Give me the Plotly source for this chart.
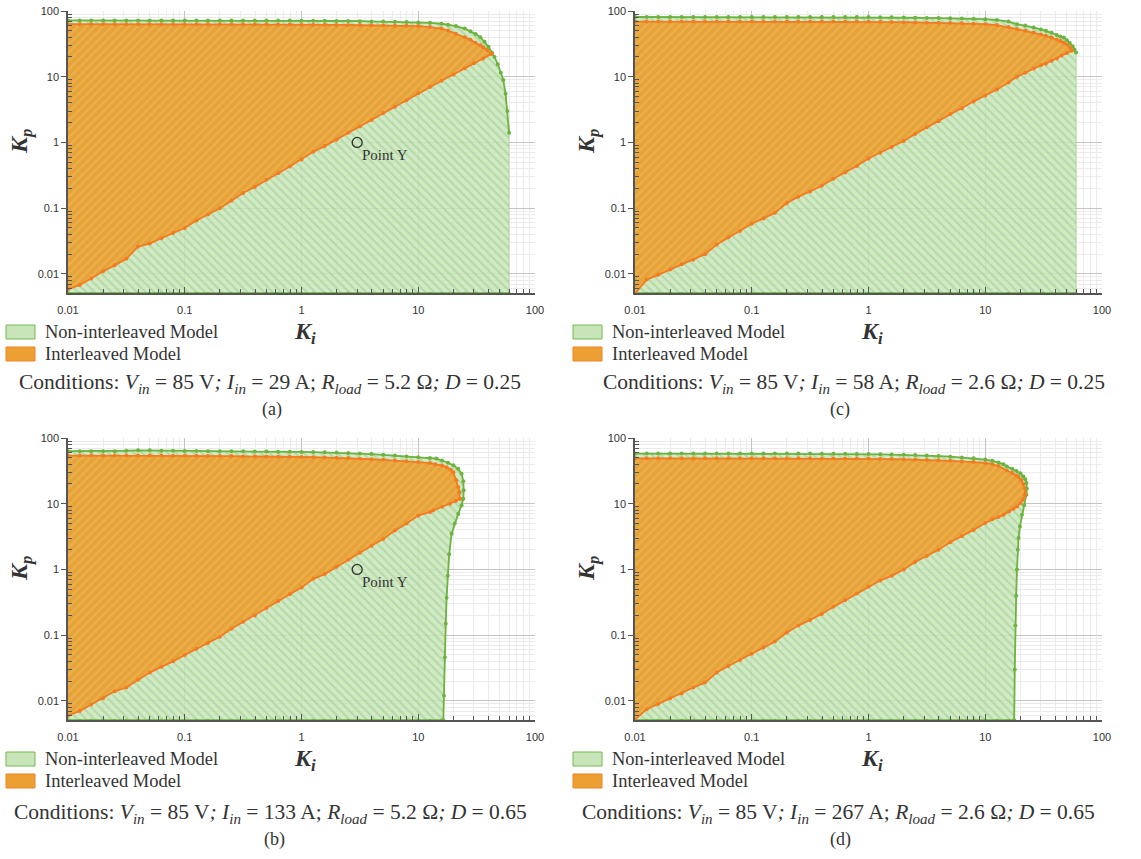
import math
import plotly.graph_objects as go

W, H = 1141, 859

# ---------------- data ----------------
KI_GRID = [0.01, 0.0126, 0.0158, 0.02, 0.0251, 0.0316, 0.0398, 0.0501, 0.0631, 0.0794,
           0.1, 0.126, 0.158, 0.2, 0.251, 0.316, 0.398, 0.501, 0.631, 0.794,
           1, 1.26, 1.58, 2, 2.51, 3.16, 3.98, 5.01, 6.31, 7.94, 10]
KP_FLOOR = 0.0051
FLOOR_KI_TAIL = [12.6, 15.8, 20, 25, 31.6, 40, 50, 60]

# (a)
A_GT_KP = [72, 72, 72, 72, 72, 72, 72, 72, 72, 72, 72, 72, 72, 72, 72, 72,
           71.5, 71.5, 71.5, 71.5, 71, 71, 71, 70.5, 70.5, 70, 69.5, 69, 68.5, 68, 67]
A_GT_TAIL_KI = [12.6, 15.8, 18, 21, 25, 28, 31, 34, 37, 40, 43, 45, 48, 51, 53.5, 56, 58, 60]
A_GT_TAIL_KP = [66, 64, 62, 59, 54, 49, 44.5, 40, 34, 28.5, 23, 20, 15.5, 11.5, 8.9, 5.5, 3, 1.4]
A_OT_KP = [63, 63, 63, 63, 63, 63, 63, 63, 63, 63, 63, 63, 63, 63, 63, 63,
           62.8, 62.6, 62.5, 62.3, 62, 61.8, 61.6, 61.4, 61.2, 61, 60.6, 60.2, 59.8, 59.4, 59]
A_OT_TAIL_KI = [12.6, 15.8, 18, 21, 25, 28, 31, 34, 36, 39, 42.5]
A_OT_TAIL_KP = [57, 54, 50.5, 45, 40, 36.5, 33, 30, 28, 25.5, 22.3]
A_OB_KP = [0.0058, 0.0068, 0.0085, 0.011, 0.0135, 0.017, 0.026, 0.029, 0.035, 0.042,
           0.05, 0.065, 0.08, 0.1, 0.13, 0.17, 0.21, 0.27, 0.34, 0.43,
           0.55, 0.72, 0.88, 1.1, 1.4, 1.75, 2.2, 2.8, 3.5, 4.4, 5.6]
A_OB_TAIL_KI = [12.6, 15.8, 20, 25, 30, 36, 42.5]
A_OB_TAIL_KP = [7, 8.7, 10.8, 13.5, 16, 19, 22.3]

# (b)
B_GT_KP = [63, 63, 63, 63, 63, 64, 65, 65, 64, 64, 63.5, 63.5, 63, 63, 63, 63,
           62.5, 62.5, 62, 62, 61.5, 61, 60.5, 60, 59, 58, 57, 55.5, 54, 52.5, 51]
B_GT_TAIL_KI = [12.6, 14.3, 16, 18, 20, 22, 23.5, 24.3, 24.5, 24.3, 23.5, 22, 20.5,
                19.3, 18.4, 17.9, 17.5, 17.2, 16.9, 16.6, 16.4]
B_GT_TAIL_KP = [49.5, 48.6, 45.5, 42, 38.5, 34, 28.7, 22, 16, 11.9, 9.5, 7, 5,
                3.5, 1.7, 0.8, 0.37, 0.15, 0.046, 0.012, 0.0051]
B_OT_KP = [54, 54, 54, 54, 54, 54, 54, 54, 54, 53.5, 53.5, 53.5, 53, 53, 53, 52.5,
           52.5, 52, 52, 51.8, 51.4, 51, 50.5, 50, 49.5, 48.5, 47.5, 46.5, 45.5, 44.3, 43]
B_OT_TAIL_KI = [12.6, 14, 16, 17.5, 19, 20, 21.2, 22, 22.5, 22.7]
B_OT_TAIL_KP = [41.5, 40, 38, 36, 33, 30, 22.7, 18, 15, 11.9]
B_OB_KP = [0.006, 0.007, 0.0088, 0.011, 0.014, 0.016, 0.021, 0.027, 0.033, 0.04,
           0.05, 0.062, 0.076, 0.095, 0.125, 0.16, 0.2, 0.26, 0.33, 0.42,
           0.53, 0.72, 0.85, 1.1, 1.4, 1.8, 2.3, 2.9, 3.9, 5.0, 6.6]
B_OB_TAIL_KI = [12.6, 13.4, 16, 18.7, 21, 22.7]
B_OB_TAIL_KP = [7.5, 7.9, 9, 10, 11, 11.9]

# (c)
C_GT_KP = [81, 81, 81, 81, 81, 81, 81, 81, 81, 81, 81, 81, 81, 81, 81, 81,
           81, 81, 81, 81, 81, 80.5, 80, 79.5, 79, 78.5, 78, 77.5, 77, 76, 75]
C_GT_TAIL_KI = [12.6, 15.8, 18.7, 22, 26, 30, 33, 37, 41, 44, 47, 50, 53, 56, 58, 60]
C_GT_TAIL_KP = [73, 69, 63, 60, 56, 52.5, 50, 46.5, 43, 41, 39.5, 36, 32.5, 29, 26, 23.4]
C_OT_KP = [69, 69, 69, 69, 69, 69, 69, 69, 69, 69, 69, 69, 69, 69, 69, 69,
           69, 69, 69, 69, 69, 68.5, 68, 67.5, 67, 66.5, 66, 65.5, 65, 64, 63]
C_OT_TAIL_KI = [12.6, 15.8, 18.7, 22, 26, 30, 33, 37, 41, 44, 47, 50, 53, 55]
C_OT_TAIL_KP = [61, 57, 53, 50, 47, 44, 42, 39.5, 37, 35, 33, 31, 28, 25]
C_OB_KP = [0.005, 0.0082, 0.0097, 0.0117, 0.014, 0.0165, 0.02, 0.028, 0.036, 0.045,
           0.058, 0.07, 0.085, 0.12, 0.15, 0.18, 0.22, 0.28, 0.35, 0.44,
           0.57, 0.7, 0.85, 1.05, 1.35, 1.7, 2.1, 2.7, 3.3, 4.2, 5.2]
C_OB_TAIL_KI = [12.6, 15.8, 18.7, 22, 26, 30, 33, 37, 41, 45, 50, 55]
C_OB_TAIL_KP = [6.4, 8.2, 10, 11.5, 13.3, 15, 15.8, 17.5, 19, 21, 23, 25]

# (d)
D_GT_KP = [58, 58, 58, 58, 58, 58, 58, 58, 58, 58, 58, 58, 58, 58, 58, 58,
           57.8, 57.6, 57.4, 57.2, 57, 56.5, 56, 55.5, 55, 54, 53, 52, 50.5, 49, 47]
D_GT_TAIL_KI = [11.5, 13, 14.3, 15.3, 17, 18.5, 20, 21.2, 22, 22.5, 22.7, 22.5, 21.5,
                20.6, 19.8, 19.3, 19, 18.7, 18.4, 18.1, 17.9, 17.7]
D_GT_TAIL_KP = [45, 42.5, 40, 37, 34, 31.5, 29, 26, 23.5, 20.6, 17, 13.7, 9.5,
                6.8, 4.5, 3, 2, 1, 0.4, 0.14, 0.03, 0.0051]
D_OT_KP = [49, 49, 49, 49, 49, 49, 49, 49, 49, 49, 49, 49, 49, 49, 49, 49,
           48.9, 48.8, 48.7, 48.6, 48.6, 48.2, 47.8, 47.4, 47, 46.4, 45.8, 45, 44, 43, 41.7]
D_OT_TAIL_KI = [11.5, 13, 15.3, 17, 18.5, 19.3, 20.3, 21.2, 21.8, 22]
D_OT_TAIL_KP = [40, 37.5, 32, 29.5, 27, 25.5, 23, 20, 17, 13.7]
D_OB_KP = [0.0052, 0.0075, 0.009, 0.011, 0.013, 0.016, 0.019, 0.027, 0.034, 0.042,
           0.052, 0.065, 0.08, 0.11, 0.14, 0.17, 0.21, 0.27, 0.34, 0.43,
           0.55, 0.68, 0.8, 1.0, 1.3, 1.6, 2.0, 2.6, 3.2, 4.0, 5.1]
D_OB_TAIL_KI = [11.5, 13, 14.4, 16, 17.5, 18.7, 20, 21, 22]
D_OB_TAIL_KP = [5.8, 6.3, 6.8, 7.6, 8.4, 9.1, 10.2, 11.5, 13.7]

POINT_Y = (3, 1)
POINT_LABEL = "Point Y"

X_TICKS = [0.01, 0.1, 1, 10, 100]
X_TICKTEXT = ["0.01", "0.1", "1", "10", "100"]
Y_TICKS = [0.01, 0.1, 1, 10, 100]
Y_TICKTEXT = ["0.01", "0.1", "1", "10", "100"]
MINOR_TICKS = [m * 10 ** e for e in range(-3, 3) for m in range(2, 10)]

SERIES_NAMES = ["Non-interleaved Model", "Interleaved Model"]
CONDITIONS = [
    "Conditions: <i>V<sub>in</sub></i> = 85 V<i>;</i> <i>I<sub>in</sub></i> = 29 A; <i>R<sub>load</sub></i> = 5.2 Ω<i>;</i> <i>D</i> = 0.25",
    "Conditions: <i>V<sub>in</sub></i> = 85 V<i>;</i> <i>I<sub>in</sub></i> = 133 A; <i>R<sub>load</sub></i> = 5.2 Ω<i>;</i> <i>D</i> = 0.65",
    "Conditions: <i>V<sub>in</sub></i> = 85 V<i>;</i> <i>I<sub>in</sub></i> = 58 A; <i>R<sub>load</sub></i> = 2.6 Ω<i>;</i> <i>D</i> = 0.25",
    "Conditions: <i>V<sub>in</sub></i> = 85 V<i>;</i> <i>I<sub>in</sub></i> = 267 A; <i>R<sub>load</sub></i> = 2.6 Ω<i>;</i> <i>D</i> = 0.65",
]
PANEL_LABELS = ["(a)", "(b)", "(c)", "(d)"]

PANELS = [
    dict(gt=(KI_GRID + A_GT_TAIL_KI, A_GT_KP + A_GT_TAIL_KP),
         ot=(KI_GRID + A_OT_TAIL_KI, A_OT_KP + A_OT_TAIL_KP),
         ob=(KI_GRID + A_OB_TAIL_KI, A_OB_KP + A_OB_TAIL_KP), point=True),
    dict(gt=(KI_GRID + B_GT_TAIL_KI, B_GT_KP + B_GT_TAIL_KP),
         ot=(KI_GRID + B_OT_TAIL_KI, B_OT_KP + B_OT_TAIL_KP),
         ob=(KI_GRID + B_OB_TAIL_KI, B_OB_KP + B_OB_TAIL_KP), point=True),
    dict(gt=(KI_GRID + C_GT_TAIL_KI, C_GT_KP + C_GT_TAIL_KP),
         ot=(KI_GRID + C_OT_TAIL_KI, C_OT_KP + C_OT_TAIL_KP),
         ob=(KI_GRID + C_OB_TAIL_KI, C_OB_KP + C_OB_TAIL_KP), point=False),
    dict(gt=(KI_GRID + D_GT_TAIL_KI, D_GT_KP + D_GT_TAIL_KP),
         ot=(KI_GRID + D_OT_TAIL_KI, D_OT_KP + D_OT_TAIL_KP),
         ob=(KI_GRID + D_OB_TAIL_KI, D_OB_KP + D_OB_TAIL_KP), point=False),
]

# ---------------- styling / layout ----------------
GREEN_LINE = "#6cb33f"
ORANGE_LINE = "#f47c20"
SERIF = "Liberation Serif"
SANS = "Liberation Sans"
TXT = "#333"

GREEN_PATTERN = dict(shape="\\", bgcolor="rgba(203,231,190,0.85)",
                     fgcolor="rgba(140,199,114,0.9)", size=6, solidity=0.35)
ORANGE_PATTERN = dict(shape="/", bgcolor="rgba(233,156,45,0.9)",
                      fgcolor="rgba(245,192,88,0.9)", size=6, solidity=0.35)
KEY_STYLES = [("rgb(200,229,186)", "rgb(118,184,80)"), ("rgb(236,160,52)", "rgb(240,130,40)")]

# screen pixel boxes (left, right, top, bottom)
BOXES = [(68, 535, 11, 293), (68, 535, 438, 720), (635, 1102, 11, 293), (635, 1102, 438, 720)]
COND_X = [270, 270, 854, 838]
COND_DY = [91, 93, 91, 93]
LABEL_X = [272, 274, 840, 840]
LABEL_DY = [116, 119, 116, 119]


def fx(px):
    return px / W


def fy(py):
    return 1 - py / H


fig = go.Figure()

for i, p in enumerate(PANELS):
    n = "" if i == 0 else str(i + 1)
    xa, ya = "x" + n, "y" + n
    gt_ki, gt_kp = p["gt"]
    ot_ki, ot_kp = p["ot"]
    ob_ki, ob_kp = p["ob"]
    x_end = gt_ki[-1]

    # green (non-interleaved) region
    fig.add_trace(go.Scatter(
        x=gt_ki + [x_end, gt_ki[0]], y=gt_kp + [KP_FLOOR, KP_FLOOR],
        fill="toself", mode="lines", line=dict(width=0.5, color="rgba(108,179,63,0.6)"),
        fillcolor="rgba(203,231,190,0.85)", fillpattern=GREEN_PATTERN,
        name=SERIES_NAMES[0], showlegend=False, hoverinfo="skip",
        xaxis=xa, yaxis=ya))
    # orange (interleaved) region
    fig.add_trace(go.Scatter(
        x=ob_ki + ot_ki[::-1], y=ob_kp + ot_kp[::-1],
        fill="toself", mode="lines", line=dict(width=0.5, color="rgba(240,140,40,0.6)"),
        fillcolor="rgba(233,156,45,0.92)", fillpattern=ORANGE_PATTERN,
        name=SERIES_NAMES[1], showlegend=False, hoverinfo="skip",
        xaxis=xa, yaxis=ya))
    # boundary lines
    floor_ki = [k for k in KI_GRID + FLOOR_KI_TAIL if k <= x_end]
    if floor_ki[-1] != x_end:
        floor_ki.append(x_end)
    fig.add_trace(go.Scatter(x=floor_ki, y=[KP_FLOOR] * len(floor_ki), mode="lines+markers",
                             line=dict(color=GREEN_LINE, width=2), marker=dict(size=3, color=GREEN_LINE),
                             showlegend=False, xaxis=xa, yaxis=ya))
    fig.add_trace(go.Scatter(x=gt_ki, y=gt_kp, mode="lines+markers",
                             line=dict(color=GREEN_LINE, width=1.8), marker=dict(size=4, color=GREEN_LINE),
                             showlegend=False, xaxis=xa, yaxis=ya))
    fig.add_trace(go.Scatter(x=ot_ki, y=ot_kp, mode="lines+markers",
                             line=dict(color=ORANGE_LINE, width=1.8), marker=dict(size=4, color=ORANGE_LINE),
                             showlegend=False, xaxis=xa, yaxis=ya))
    fig.add_trace(go.Scatter(x=ob_ki, y=ob_kp, mode="lines+markers",
                             line=dict(color=ORANGE_LINE, width=1.8), marker=dict(size=4, color=ORANGE_LINE),
                             showlegend=False, xaxis=xa, yaxis=ya))
    if p["point"]:
        fig.add_trace(go.Scatter(x=[POINT_Y[0]], y=[POINT_Y[1]], mode="markers",
                                 marker=dict(symbol="circle-open", size=10, color=TXT,
                                             line=dict(width=1.3)),
                                 showlegend=False, xaxis=xa, yaxis=ya))
        fig.add_annotation(text=POINT_LABEL, x=math.log10(POINT_Y[0]), y=math.log10(POINT_Y[1]),
                           xref=xa, yref=ya, xanchor="left", yanchor="middle",
                           xshift=3, yshift=-13, showarrow=False,
                           font=dict(family=SERIF, size=15, color=TXT))

layout = dict(width=W, height=H, margin=dict(l=0, r=0, t=0, b=0), showlegend=False,
              paper_bgcolor="white", plot_bgcolor="rgba(0,0,0,0)", shapes=[])

annotations = []
for i, (l, r, t, b) in enumerate(BOXES):
    n = "" if i == 0 else str(i + 1)
    common = dict(showline=True, linecolor="#555", linewidth=1.5, automargin=False,
                  showgrid=True, gridcolor="#c4c4c4", gridwidth=1,
                  tickcolor="#555", tickfont=dict(family=SANS, size=11, color=TXT),
                  minor=dict(tickmode="array", tickvals=MINOR_TICKS, ticks="inside", ticklen=4,
                             tickcolor="#555", showgrid=True, gridcolor="#ebebeb", gridwidth=1))
    layout["xaxis" + n] = dict(
        type="log", range=[-2, 2], domain=[fx(l), fx(r)], anchor="y" + n,
        tickmode="array", tickvals=X_TICKS, ticktext=X_TICKTEXT,
        ticks="inside", ticklen=6, ticklabelstandoff=6, **common)
    layout["yaxis" + n] = dict(
        type="log", range=[-2.29, 2], domain=[fy(b), fy(t)], anchor="x" + n,
        tickmode="array", tickvals=Y_TICKS, ticktext=Y_TICKTEXT,
        ticks="outside", ticklen=5, **common)
    cx = (l + r) / 2
    # legend block under each panel: key box + series name
    for k, row_y in enumerate((b + 39, b + 61)):
        fillc, linec = KEY_STYLES[k]
        layout["shapes"].append(dict(
            type="rect", xref="paper", yref="paper", layer="above",
            x0=fx(l - 62), x1=fx(l - 33), y0=fy(row_y + 7), y1=fy(row_y - 7),
            fillcolor=fillc, line=dict(color=linec, width=1)))
        annotations.append(dict(
            text=SERIES_NAMES[k], x=fx(l - 25), y=fy(row_y), xref="paper", yref="paper",
            xanchor="left", yanchor="middle", showarrow=False,
            font=dict(family=SERIF, size=18.5, color=TXT)))
    annotations += [
        dict(text="<b><i>K<sub>p</sub></i></b>", x=fx(l - 47), y=fy((t + b) / 2 - 10),
             xref="paper", yref="paper", xanchor="center", yanchor="middle",
             showarrow=False, textangle=-90,
             font=dict(family=SERIF, size=24, color=TXT)),
        dict(text="<b><i>K<sub>i</sub></i></b>", x=fx(cx + 3), y=fy(b + 40),
             xref="paper", yref="paper", xanchor="center", yanchor="middle", showarrow=False,
             font=dict(family=SERIF, size=24, color=TXT)),
        dict(text=CONDITIONS[i], x=fx(COND_X[i]), y=fy(b + COND_DY[i]),
             xref="paper", yref="paper", xanchor="center", yanchor="middle", showarrow=False,
             font=dict(family=SERIF, size=21.5, color=TXT)),
        dict(text=PANEL_LABELS[i], x=fx(LABEL_X[i]), y=fy(b + LABEL_DY[i]),
             xref="paper", yref="paper", xanchor="center", yanchor="middle", showarrow=False,
             font=dict(family=SERIF, size=18, color=TXT)),
    ]

fig.update_layout(**layout)
for a in annotations:
    fig.add_annotation(**a)
fig.write_html("out.html", config={"displayModeBar": False},
               post_script="document.body.style.margin='0px';")
